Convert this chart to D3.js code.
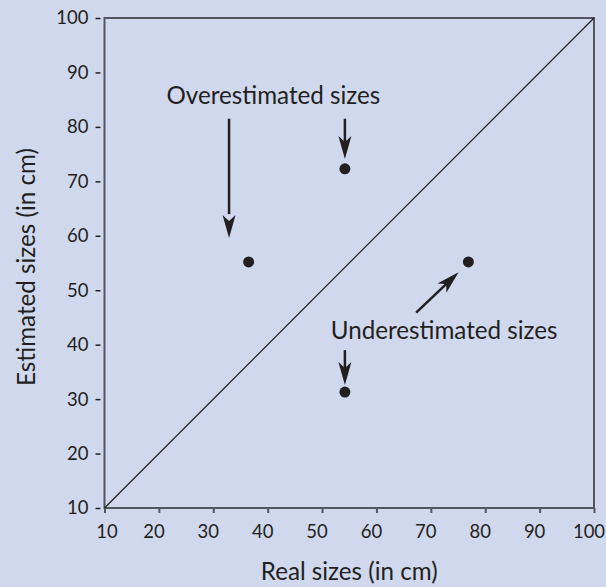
<!DOCTYPE html>
<html>
<head>
<meta charset="utf-8">
<script src="https://cdn.jsdelivr.net/npm/d3@7"></script>
<style>
  html, body { margin: 0; padding: 0; background: #d0d8ee; }
  svg { display: block; }
  text { font-family: Lato, "Noto Sans", sans-serif; fill: #231f20; }
</style>
</head>
<body>
<div class="chart"></div>
<script>
// real vs estimated sizes (cm)
const realSizes = [36.5, 54.2, 76.9, 54.2];
const estimatedSizes = [55.2, 72.3, 55.2, 31.3];
const tickValues = [10, 20, 30, 40, 50, 60, 70, 80, 90, 100];

// annotation arrows, in data units: [x1, y1, x2, y2]
const arrows = [
  [32.9, 81.5, 32.9, 59.6],
  [54.2, 81.5, 54.2, 74.1],
  [67.3, 45.9, 75.1, 53.3],
  [54.2, 39.0, 54.2, 32.6]
];
const notes = [
  {text: 'Overestimated sizes', x: 21.4, y: 84.2},
  {text: 'Underestimated sizes', x: 51.6, y: 41.0}
];

const width = 606;
const height = 587;
const margin = {top: 18, right: 12, bottom: 79, left: 104.5};

const svg = d3.select('.chart')
  .append('svg')
    .attr('width', width)
    .attr('height', height);

const x = d3.scaleLinear()
  .domain([10, 100])
  .range([margin.left, width - margin.right]);

const y = d3.scaleLinear()
  .domain([10, 100])
  .range([height - margin.bottom, margin.top]);

// x axis
const xAxis = svg.append('g')
  .attr('transform', `translate(0,${y(10)})`)
  .call(d3.axisBottom(x).tickValues(tickValues).tickSize(5).tickSizeOuter(0).tickPadding(12));
xAxis.select('.domain').remove();
xAxis.selectAll('line').attr('stroke', '#55555f').attr('stroke-width', 2);
xAxis.selectAll('text')
  .attr('font-size', '18.5px')
  .attr('font-family', 'Lato, "Noto Sans", sans-serif')
  .attr('fill', '#231f20')
  .attr('dx', (d, i) => i === 0 ? 2 : -5.5);

// y axis, with detached dash ticks
const yAxis = svg.append('g')
  .attr('transform', `translate(${x(10)},0)`)
  .call(d3.axisLeft(y).tickValues(tickValues).tickSize(0).tickPadding(16));
yAxis.select('.domain').remove();
yAxis.selectAll('.tick').append('line')
  .attr('x1', -9).attr('x2', -4)
  .attr('stroke', '#231f20').attr('stroke-width', 1.5);
yAxis.selectAll('text')
  .attr('font-size', '18.5px')
  .attr('font-family', 'Lato, "Noto Sans", sans-serif')
  .attr('fill', '#231f20');

// frame
svg.append('rect')
  .attr('x', x(10))
  .attr('y', y(100))
  .attr('width', x(100) - x(10))
  .attr('height', y(10) - y(100))
  .attr('fill', 'none')
  .attr('stroke', '#55555f')
  .attr('stroke-width', 2);

// diagonal y = x
svg.append('line')
  .attr('x1', x(10)).attr('y1', y(10))
  .attr('x2', x(100)).attr('y2', y(100))
  .attr('stroke', '#231f20')
  .attr('stroke-width', 1.2);

// points
svg.selectAll('circle')
  .data(realSizes)
  .enter()
  .append('circle')
    .attr('cx', d => x(d))
    .attr('cy', (d, i) => y(estimatedSizes[i]))
    .attr('r', 5.5)
    .attr('fill', '#231f20');

// arrows
function arrowPath(d) {
  const x1 = x(d[0]), y1 = y(d[1]), x2 = x(d[2]), y2 = y(d[3]);
  const a = Math.atan2(y2 - y1, x2 - x1);
  const len = 23, half = 6.5, notch = 17;
  const ux = Math.cos(a), uy = Math.sin(a);
  const px = -uy, py = ux;
  const bx = x2 - ux * len, by = y2 - uy * len;
  const nx = x2 - ux * notch, ny = y2 - uy * notch;
  return `M${x2},${y2}L${bx + px * half},${by + py * half}L${nx},${ny}L${bx - px * half},${by - py * half}Z`;
}

svg.selectAll('line.arrow')
  .data(arrows)
  .enter()
  .append('line')
    .attr('class', 'arrow')
    .attr('x1', d => x(d[0])).attr('y1', d => y(d[1]))
    .attr('x2', d => x(d[0]) + (x(d[2]) - x(d[0])) * 0.8)
    .attr('y2', d => y(d[1]) + (y(d[3]) - y(d[1])) * 0.8)
    .attr('stroke', '#231f20')
    .attr('stroke-width', 2.5);

svg.selectAll('path.head')
  .data(arrows)
  .enter()
  .append('path')
    .attr('class', 'head')
    .attr('d', arrowPath)
    .attr('fill', '#231f20');

// annotation text
svg.selectAll('text.note')
  .data(notes)
  .enter()
  .append('text')
    .attr('class', 'note')
    .attr('x', d => x(d.x))
    .attr('y', d => y(d.y))
    .attr('font-size', '24.2px')
    .text(d => d.text);

// axis titles
svg.append('text')
  .attr('x', (x(10) + x(100)) / 2)
  .attr('y', 580)
  .attr('text-anchor', 'middle')
  .attr('font-size', '24.2px')
  .text('Real sizes (in cm)');

svg.append('text')
  .attr('transform', `translate(35,${(y(10) + y(100)) / 2 + 4}) rotate(-90)`)
  .attr('text-anchor', 'middle')
  .attr('font-size', '24.2px')
  .text('Estimated sizes (in cm)');
</script>
</body>
</html>
